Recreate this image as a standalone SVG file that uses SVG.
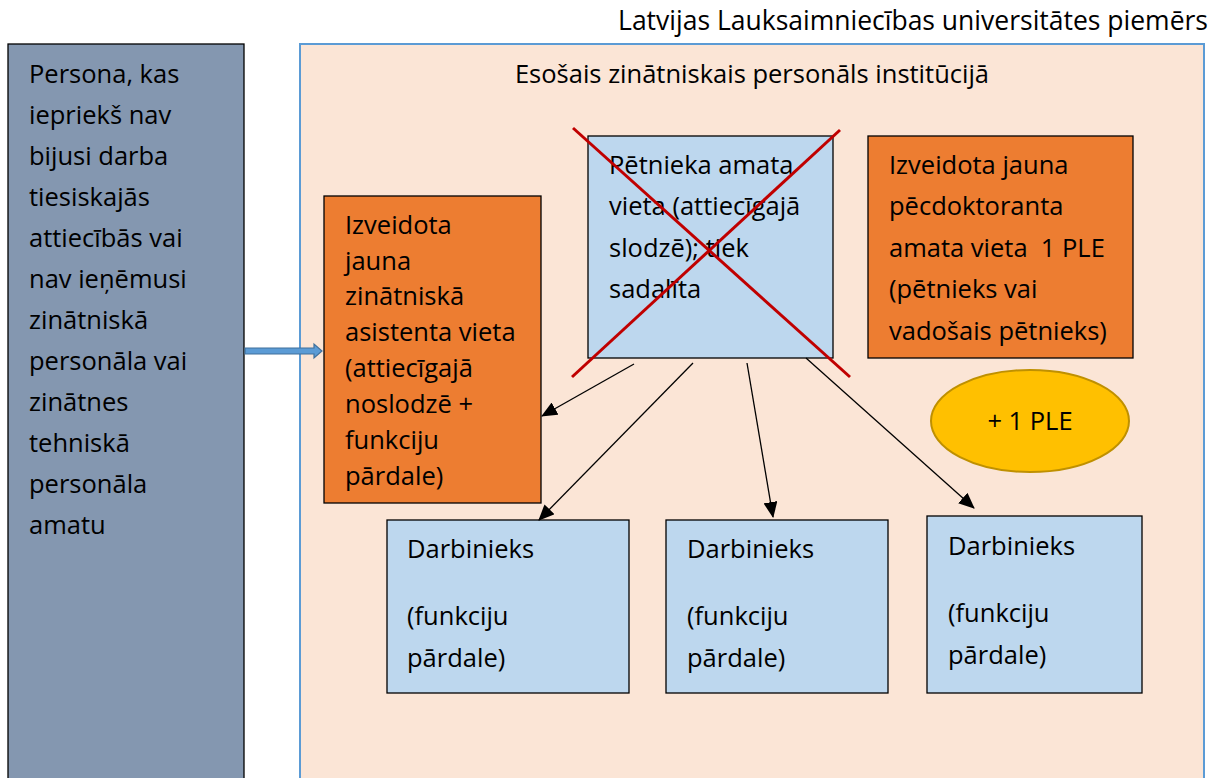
<svg xmlns="http://www.w3.org/2000/svg" width="1222" height="778" viewBox="0 0 1222 778">
<defs>
<style>
text{font-family:"Open Sans","Noto Sans",sans-serif;font-size:25.5px;fill:#000}
.title{font-size:26.5px}
.box{stroke:#000;stroke-width:1.3}
.blue{fill:#bdd7ee}
.orange{fill:#ed7d31}
.conn{stroke:#000;stroke-width:1.3;fill:none}
.cross{stroke:#c00000;stroke-width:3}
</style>
<marker id="ah" markerWidth="16" markerHeight="14" refX="15" refY="7" orient="auto" markerUnits="userSpaceOnUse">
<path d="M0,0 L16,7 L0,14 Z" fill="#000"/>
</marker>
</defs>
<rect width="1222" height="778" fill="#fff"/>
<text class="title" x="1208" y="30" text-anchor="end">Latvijas Lauksaimniecības universitātes piemērs</text>

<g id="persona">
<rect class="box" x="8" y="44" width="236" height="750" fill="#8497b0"/>
<text x="29" y="83">Persona, kas</text>
<text x="29" y="124">iepriekš nav</text>
<text x="29" y="165">bijusi darba</text>
<text x="29" y="206">tiesiskajās</text>
<text x="29" y="247">attiecībās vai</text>
<text x="29" y="288">nav ieņēmusi</text>
<text x="29" y="329">zinātniskā</text>
<text x="29" y="370">personāla vai</text>
<text x="29" y="411">zinātnes</text>
<text x="29" y="452">tehniskā</text>
<text x="29" y="493">personāla</text>
<text x="29" y="534">amatu</text>
</g>

<g id="container">
<rect x="300" y="44" width="904" height="750" fill="#fbe5d6" stroke="#5b9bd5" stroke-width="2"/>
<text x="752" y="83" text-anchor="middle">Esošais zinātniskais personāls institūcijā</text>
</g>

<g id="asistents">
<rect class="box orange" x="324" y="196" width="217" height="307"/>
<text x="345" y="234">Izveidota</text>
<text x="345" y="270">jauna</text>
<text x="345" y="305">zinātniskā</text>
<text x="345" y="341">asistenta vieta</text>
<text x="345" y="377">(attiecīgajā</text>
<text x="345" y="413">noslodzē +</text>
<text x="345" y="449">funkciju</text>
<text x="345" y="485">pārdale)</text>
</g>

<g id="petnieks">
<rect class="box blue" x="588" y="136" width="245" height="222"/>
<text x="609" y="174">Pētnieka amata</text>
<text x="609" y="215">vieta (attiecīgajā</text>
<text x="609" y="257">slodzē); tiek</text>
<text x="609" y="298">sadalīta</text>
<line class="cross" x1="573" y1="128" x2="850" y2="377"/>
<line class="cross" x1="840" y1="130" x2="572" y2="377"/>
</g>

<g id="pecdoktorants">
<rect class="box orange" x="868" y="136" width="265" height="222"/>
<text x="889" y="174">Izveidota jauna</text>
<text x="889" y="215">pēcdoktoranta</text>
<text x="889" y="257" xml:space="preserve">amata vieta  1 PLE</text>
<text x="889" y="298">(pētnieks vai</text>
<text x="889" y="340">vadošais pētnieks)</text>
</g>

<g id="ple">
<ellipse cx="1030" cy="421" rx="99" ry="51" fill="#ffc000" stroke="#bf9000" stroke-width="2"/>
<text x="1030" y="430" text-anchor="middle">+ 1 PLE</text>
</g>

<g id="darbinieks1">
<rect class="box blue" x="387" y="520" width="242" height="173"/>
<text x="407" y="558">Darbinieks</text>
<text x="407" y="625">(funkciju</text>
<text x="407" y="667">pārdale)</text>
</g>
<g id="darbinieks2">
<rect class="box blue" x="666" y="520" width="222" height="173"/>
<text x="687" y="558">Darbinieks</text>
<text x="687" y="625">(funkciju</text>
<text x="687" y="667">pārdale)</text>
</g>
<g id="darbinieks3">
<rect class="box blue" x="927" y="516" width="215" height="177"/>
<text x="948" y="555">Darbinieks</text>
<text x="948" y="622">(funkciju</text>
<text x="948" y="664">pārdale)</text>
</g>

<g id="connectors">
<path d="M245,348 L314,348 L314,344 L322,351 L314,358 L314,354 L245,354 Z" fill="#5b9bd5" stroke="#41719c" stroke-width="1.2"/>
<line class="conn" x1="634" y1="364" x2="542" y2="416" marker-end="url(#ah)"/>
<line class="conn" x1="693" y1="363" x2="539" y2="520" marker-end="url(#ah)"/>
<line class="conn" x1="747" y1="363" x2="773" y2="517" marker-end="url(#ah)"/>
<line class="conn" x1="806" y1="358" x2="974" y2="508" marker-end="url(#ah)"/>
</g>
</svg>
